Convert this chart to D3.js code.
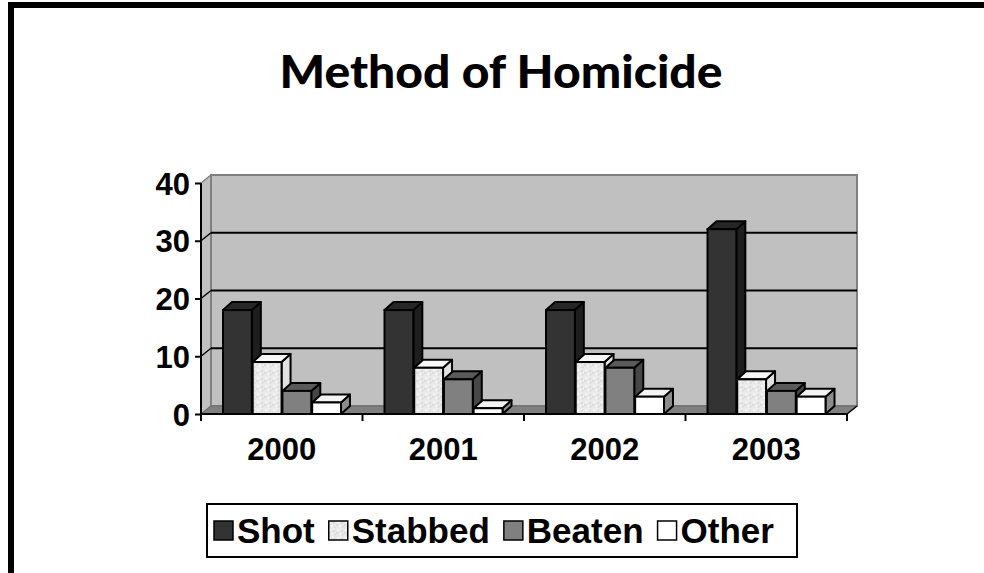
<!DOCTYPE html>
<html>
<head>
<meta charset="utf-8">
<script src="https://cdn.jsdelivr.net/npm/d3@7"></script>
<style>
  body { margin: 0; background: #fff; }
  svg { display: block; }
</style>
</head>
<body>
<div id="chart"></div>
<script>
// chart data
var years = ["2000", "2001", "2002", "2003"];
var seriesNames = ["Shot", "Stabbed", "Beaten", "Other"];
var shot = [18, 18, 18, 32];
var stabbed = [9, 8, 9, 6];
var beaten = [4, 6, 8, 4];
var other = [2, 1, 3, 3];
var yTicks = [0, 10, 20, 30, 40];

var seriesValues = [shot, stabbed, beaten, other];

var svgWidth = 984;
var svgHeight = 573;

var svg = d3.select("#chart")
  .append("svg")
  .attr("width", svgWidth)
  .attr("height", svgHeight);

// pattern for the speckled "Stabbed" fill
var defs = svg.append("defs");
var pat = defs.append("pattern")
  .attr("id", "speckle")
  .attr("patternUnits", "userSpaceOnUse")
  .attr("width", 8)
  .attr("height", 8);
pat.append("rect").attr("width", 8).attr("height", 8).attr("fill", "#e9e9e9");
[[1, 1, "#f6f6f6"], [5, 2, "#dcdcdc"], [3, 5, "#f3f3f3"], [6, 6, "#e0e0e0"], [0, 4, "#dadada"], [4, 0, "#efefef"]]
  .forEach(function(p) {
    pat.append("rect").attr("x", p[0]).attr("y", p[1]).attr("width", 2).attr("height", 2).attr("fill", p[2]);
  });

var faceColors = {
  Shot:    { front: "#333333", top: "#262626", side: "#1e1e1e" },
  Stabbed: { front: "url(#speckle)", top: "#f7f7f7", side: "#e2e2e2" },
  Beaten:  { front: "#808080", top: "#5a5a5a", side: "#474747" },
  Other:   { front: "#ffffff", top: "#f4f4f4", side: "#8c8c8c" }
};

// outer frame (partial black border like the source slide)
svg.append("rect").attr("x", 8).attr("y", 2).attr("width", 976).attr("height", 6).attr("fill", "#000");
svg.append("rect").attr("x", 8).attr("y", 2).attr("width", 6).attr("height", 571).attr("fill", "#000");

// title
svg.append("text")
  .attr("x", 501)
  .attr("y", 88)
  .attr("text-anchor", "middle")
  .attr("font-family", "Lato, 'DejaVu Sans', sans-serif")
  .attr("font-weight", 900)
  .attr("font-size", 46)
  .attr("textLength", 443)
  .attr("lengthAdjust", "spacingAndGlyphs")
  .text("Method of Homicide");

// plot geometry
var left = 201, right = 847;
var depthX = 10, depthY = -8;

var x0 = d3.scaleBand()
  .domain(years)
  .range([left, right]);

var x1 = d3.scaleBand()
  .domain(seriesNames)
  .range([22, 140])
  .paddingInner(0.03);

var y = d3.scaleLinear()
  .domain([0, 40])
  .range([414, 183]);

var g = svg.append("g");

// side wall
g.append("polygon")
  .attr("points", [[left, y(0)], [left + depthX, y(0) + depthY], [left + depthX, y(40) + depthY], [left, y(40)]].join(" "))
  .attr("fill", "#c0c0c0")
  .attr("stroke", "#808080")
  .attr("stroke-width", 1.5);

// back wall
g.append("rect")
  .attr("x", left + depthX)
  .attr("y", y(40) + depthY)
  .attr("width", right - left)
  .attr("height", y(0) - y(40))
  .attr("fill", "#c0c0c0")
  .attr("stroke", "#808080")
  .attr("stroke-width", 2);

// gridlines on back and side walls
yTicks.filter(function(t) { return t > 0 && t < 40; }).forEach(function(t) {
  g.append("line")
    .attr("x1", left + depthX).attr("x2", right + depthX)
    .attr("y1", y(t) + depthY).attr("y2", y(t) + depthY)
    .attr("stroke", "#000").attr("stroke-width", 2);
  g.append("line")
    .attr("x1", left).attr("x2", left + depthX)
    .attr("y1", y(t)).attr("y2", y(t) + depthY)
    .attr("stroke", "#000").attr("stroke-width", 1.5);
});

// floor
g.append("polygon")
  .attr("points", [[left, y(0)], [right, y(0)], [right + depthX, y(0) + depthY], [left + depthX, y(0) + depthY]].join(" "))
  .attr("fill", "#808080")
  .attr("stroke", "#6a6a6a")
  .attr("stroke-width", 1);
g.append("line")
  .attr("x1", right).attr("y1", y(0))
  .attr("x2", right + depthX).attr("y2", y(0) + depthY)
  .attr("stroke", "#000").attr("stroke-width", 1.5);

// bars
var bdx = 9, bdy = -8;
years.forEach(function(year, i) {
  seriesNames.forEach(function(name, s) {
    var v = seriesValues[s][i];
    var bx = x0(year) + x1(name);
    var bw = x1.bandwidth();
    var top = y(v), bottom = y(0);
    var c = faceColors[name];
    var bar = g.append("g");
    // side face
    bar.append("polygon")
      .attr("points", [[bx + bw, bottom], [bx + bw + bdx, bottom + bdy], [bx + bw + bdx, top + bdy], [bx + bw, top]].join(" "))
      .attr("fill", c.side).attr("stroke", "#000").attr("stroke-width", 2).attr("stroke-linejoin", "round");
    // top face
    bar.append("polygon")
      .attr("points", [[bx, top], [bx + bdx, top + bdy], [bx + bw + bdx, top + bdy], [bx + bw, top]].join(" "))
      .attr("fill", c.top).attr("stroke", "#000").attr("stroke-width", 2).attr("stroke-linejoin", "round");
    // front face
    bar.append("rect")
      .attr("x", bx).attr("y", top)
      .attr("width", bw).attr("height", bottom - top)
      .attr("fill", c.front).attr("stroke", "#000").attr("stroke-width", 2);
  });
});

// y axis
var leftAxis = d3.axisLeft(y).tickValues(yTicks).tickSize(6).tickPadding(6);
var yAxis = svg.append("g")
  .attr("transform", "translate(" + left + ",0)")
  .call(leftAxis);
yAxis.select(".domain").attr("stroke", "#000").attr("stroke-width", 2).attr("d", "M0," + y(0) + "V" + y(40));
yAxis.selectAll(".tick line").attr("stroke", "#000").attr("stroke-width", 2);
yAxis.selectAll(".tick text")
  .attr("font-family", "'Liberation Sans', Arial, sans-serif")
  .attr("font-weight", "bold")
  .attr("font-size", 31)
  .attr("fill", "#000")
  .attr("x", -11)
  .attr("dy", "0.36em");

// x axis
var bottomAxis = d3.axisBottom(x0).tickSize(0).tickPadding(24);
var xAxis = svg.append("g")
  .attr("transform", "translate(0," + y(0) + ")")
  .call(bottomAxis);
xAxis.select(".domain").attr("stroke", "#000").attr("stroke-width", 2).attr("d", "M" + left + ",0H" + right);
xAxis.selectAll(".tick text")
  .attr("font-family", "'Liberation Sans', Arial, sans-serif")
  .attr("font-weight", "bold")
  .attr("font-size", 31)
  .attr("fill", "#000")
  .attr("y", 46)
  .attr("dy", 0);
// category boundary ticks
var bounds = years.map(function(d) { return x0(d); }).concat([right]);
xAxis.selectAll(".bound")
  .data(bounds)
  .enter()
  .append("line")
  .attr("class", "bound")
  .attr("x1", function(d) { return d; })
  .attr("x2", function(d) { return d; })
  .attr("y1", 0)
  .attr("y2", 7)
  .attr("stroke", "#000")
  .attr("stroke-width", 2);

// legend
var legend = svg.append("g");
legend.append("rect")
  .attr("x", 207).attr("y", 504)
  .attr("width", 590).attr("height", 53)
  .attr("fill", "#fff").attr("stroke", "#000").attr("stroke-width", 2);

var swatchFill = { Shot: "#333333", Stabbed: "url(#speckle)", Beaten: "#808080", Other: "#ffffff" };
var lx = 214;
seriesNames.forEach(function(name) {
  legend.append("rect")
    .attr("x", lx).attr("y", 521)
    .attr("width", 19).attr("height", 19)
    .attr("fill", swatchFill[name]).attr("stroke", "#000").attr("stroke-width", 1.5);
  var t = legend.append("text")
    .attr("x", lx + 23)
    .attr("y", 543)
    .attr("font-family", "'Liberation Sans', Arial, sans-serif")
    .attr("font-weight", "bold")
    .attr("font-size", 35)
    .text(name);
  lx += 23 + t.node().getComputedTextLength() + 14;
});
</script>
</body>
</html>
